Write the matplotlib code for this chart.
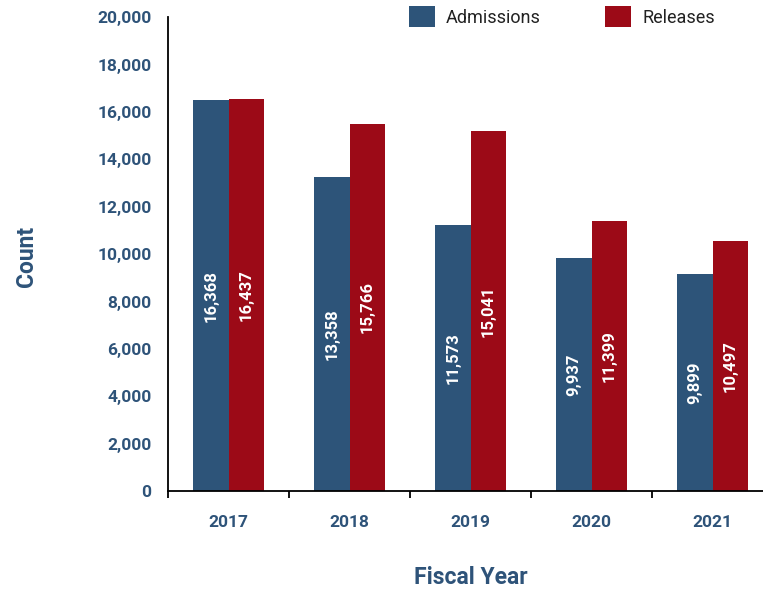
import matplotlib
matplotlib.use("Agg")
import matplotlib.pyplot as plt
import numpy as np
from matplotlib.patches import Patch
from matplotlib.ticker import FixedLocator, FuncFormatter

# data
years = ["2017", "2018", "2019", "2020", "2021"]
admissions = [16500, 13260, 11230, 9840, 9160]      # bar heights as drawn
releases = [16550, 15500, 15200, 11400, 10560]
admissions_labels = ["16,368", "13,358", "11,573", "9,937", "9,899"]
releases_labels = ["16,437", "15,766", "15,041", "11,399", "10,497"]

blue = "#2D5479"
red = "#9C0A17"
label_col = "#2E5379"

plt.rcParams["font.family"] = ["Roboto", "DejaVu Sans"]

fig = plt.figure(figsize=(7.63, 5.90), dpi=100)
ax = fig.add_axes([168 / 763, 1 - 491 / 590, 605 / 763, (491 - 17.3) / 590])

x = np.arange(len(years))
w = 0.29
ax.bar(x - w / 2, admissions, w, color=blue)
ax.bar(x + w / 2, releases, w, color=red)

# value labels inside the bars, rotated
for i in range(len(years)):
    ax.text(x[i] - w / 2, admissions[i] / 2, admissions_labels[i], rotation=90,
            ha="center", va="center", color="white", fontsize=12, fontweight="bold")
    ax.text(x[i] + w / 2, releases[i] / 2, releases_labels[i], rotation=90,
            ha="center", va="center", color="white", fontsize=12, fontweight="bold")

ax.set_xlim(-0.5, 4.5)
ax.set_ylim(0, 20000)

ax.spines["top"].set_visible(False)
ax.spines["right"].set_visible(False)
ax.spines["left"].set_linewidth(1.3)
ax.spines["bottom"].set_linewidth(1.3)

ax.set_yticks(np.arange(0, 20001, 2000))
ax.yaxis.set_major_formatter(FuncFormatter(lambda v, p: f"{int(v):,}"))
ax.yaxis.set_minor_locator(FixedLocator([20000]))
ax.tick_params(axis="y", which="major", length=0, pad=12, labelsize=12.5, labelcolor=label_col)
ax.tick_params(axis="y", which="minor", length=5, width=1.3, direction="out")
for t in ax.get_yticklabels():
    t.set_fontweight("bold")

ax.set_xticks(x)
ax.set_xticklabels(years, fontweight="bold")
ax.xaxis.set_minor_locator(FixedLocator(np.arange(-0.5, 5, 1.0)))
ax.tick_params(axis="x", which="major", length=0, pad=17, labelsize=12.5, labelcolor=label_col)
ax.tick_params(axis="x", which="minor", length=5, width=1.3, direction="out")

fig.text(27 / 763, 1 - 256 / 590, "Count", rotation=90, ha="center", va="center",
         fontsize=16.5, fontweight="bold", color=label_col)
fig.text(471 / 763, 1 - 577 / 590, "Fiscal Year", ha="center", va="center",
         fontsize=16.5, fontweight="bold", color=label_col)

handles = [Patch(facecolor=blue), Patch(facecolor=red)]
fig.legend(handles, ["Admissions", "Releases"], loc="upper left",
           bbox_to_anchor=(409 / 763, 1 - 6 / 590), ncol=2, frameon=False,
           fontsize=13, handlelength=1.45, handleheight=1.45, handletextpad=0.6,
           columnspacing=3.55, borderpad=0, borderaxespad=0, labelcolor="#222222")

fig.savefig("out.png", dpi=100)
